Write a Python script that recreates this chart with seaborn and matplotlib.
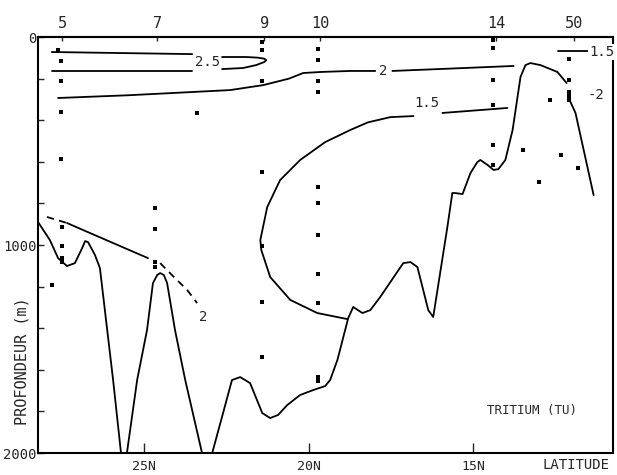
import numpy as np
import pandas as pd
import matplotlib
matplotlib.use('Agg')
import matplotlib.pyplot as plt
from matplotlib.ticker import MultipleLocator
import seaborn as sns

# stations along the top axis
station_lat = [27.49, 24.60, 21.35, 19.65, 14.30, 11.96]
station_lbl = ['5', '7', '9', '10', '14', '50']

# latitude ticks on the bottom
lat_ticks = [25, 20, 15]
lat_lbl = ['25N', '20N', '15N']

# contour 2.5 (surface, left), broken for its label
c25_a_lat = [27.80, 23.54]
c25_a_dep = [72, 82]
c25_b_lat = [22.63, 21.90, 21.55, 21.35, 21.29, 21.35, 21.60, 22.00, 22.63]
c25_b_dep = [96, 96, 99, 104, 111, 120, 135, 149, 154]
c25_c_lat = [23.54, 27.80]
c25_c_dep = [161, 161]

# contour 2 (upper)
c2_a_lat = [27.61, 25.50, 24.00, 22.39, 21.38, 20.60, 20.17, 19.65, 18.74, 17.98]
c2_a_dep = [293, 280, 268, 255, 231, 200, 173, 168, 163, 163]
c2_b_lat = [17.46, 15.60, 13.78]
c2_b_dep = [163, 151, 139]

# contour 1.5 (top right, short)
c15_top_lat = [12.42, 11.53]
c15_top_dep = [67, 67]

# contour 1.5 (big loop)
c15_a_lat = [13.97, 15.94]
c15_a_dep = [341, 365]
c15_b_lat = [16.82, 17.52, 18.20, 18.74, 19.50, 20.26, 20.87, 21.26, 21.47,
             21.44, 21.17, 20.56, 19.74, 18.83]
c15_b_dep = [380, 385, 410, 447, 505, 591, 688, 817, 976,
             1024, 1154, 1264, 1327, 1356]

# contour 2 (deep, left) - dashed / solid / dashed
c2d_a_lat = [27.95, 27.34]
c2d_a_dep = [865, 894]
c2d_b_lat = [27.34, 26.85, 24.88]
c2d_b_dep = [894, 928, 1063]
c2d_c_lat = [24.51, 24.06, 23.69, 23.39]
c2d_c_dep = [1087, 1159, 1216, 1279]

# deep contour across the section
cg_a_lat = [28.22, 27.86, 27.61, 27.34, 27.10, 26.88, 26.79, 26.70, 26.49, 26.34,
            25.94, 25.70, 25.52, 25.21, 24.91, 24.73, 24.60, 24.51, 24.40, 24.30,
            24.06, 23.75, 23.24, 22.93, 22.33, 22.08, 21.78, 21.41, 21.17, 20.93,
            20.65, 20.26, 19.86, 19.50, 19.35, 19.13, 18.80, 18.65, 18.37, 18.13,
            17.83, 17.13, 16.91, 16.70, 16.37, 16.22, 15.79, 15.64, 15.55, 15.33,
            15.09, 14.88, 14.79, 14.57, 14.39, 14.24, 14.03, 13.81, 13.57, 13.42,
            13.27, 12.96, 12.45, 12.17]
cg_a_dep = [889, 976, 1063, 1101, 1087, 1015, 981, 986, 1048, 1111,
            1649, 2000, 2000, 1649, 1409, 1183, 1144, 1135, 1144, 1183,
            1409, 1649, 2000, 2000, 1649, 1635, 1664, 1808, 1832, 1817,
            1769, 1721, 1697, 1678, 1649, 1553, 1351, 1298, 1327, 1313,
            1250, 1087, 1082, 1106, 1313, 1346, 913, 750, 750, 755,
            654, 601, 591, 615, 639, 635, 591, 447, 192, 135,
            125, 135, 168, 221]
cg_b_lat = [12.05, 11.90, 11.35]
cg_b_dep = [313, 365, 760]

# sample points
sample_lat = ([27.61, 27.52, 27.52, 27.52, 27.52, 27.50, 27.50, 27.50, 27.50]
              + [24.67, 24.67, 24.67, 24.67, 23.39]
              + [21.41] * 7
              + [19.71] * 11
              + [14.39] * 6
              + [12.11] * 6
              + [12.66, 12.33, 13.02, 27.80, 13.48, 11.81])
sample_dep = ([62, 115, 212, 361, 587, 913, 1005, 1063, 1082]
              + [822, 923, 1082, 1106, 365]
              + [24, 62, 212, 649, 1005, 1274, 1539]
              + [58, 111, 212, 264, 721, 798, 952, 1139, 1279, 1635, 1654]
              + [14, 53, 207, 327, 519, 615]
              + [106, 207, 264, 279, 293, 303]
              + [303, 567, 697, 1192, 543, 630])

# contour labels
lab_txt = ['2.5', '2', '1.5', '1.5', '-2', '2']
lab_lat = [23.08, 17.74, 16.40, 11.11, 11.29, 23.21]
lab_dep = [120, 163, 317, 72, 279, 1346]

solid = [(c25_a_lat, c25_a_dep), (c25_b_lat, c25_b_dep), (c25_c_lat, c25_c_dep),
         (c2_a_lat, c2_a_dep), (c2_b_lat, c2_b_dep), (c15_top_lat, c15_top_dep),
         (c15_a_lat, c15_a_dep), (c15_b_lat, c15_b_dep), (c2d_b_lat, c2d_b_dep),
         (cg_a_lat, cg_a_dep), (cg_b_lat, cg_b_dep)]
dashed = [(c2d_a_lat, c2d_a_dep), (c2d_c_lat, c2d_c_dep)]


def to_frame(segs):
    rows = []
    for i, (la, de) in enumerate(segs):
        for a, d in zip(la, de):
            rows.append({'seg': i, 'lat': a, 'depth': d})
    return pd.DataFrame(rows)


df_solid = to_frame(solid)
df_dash = to_frame(dashed)

sns.set_style('ticks')
plt.rcParams['font.family'] = ['DejaVu Sans Mono', 'DejaVu Sans']

fig = plt.figure(figsize=(6.17, 4.75), dpi=100)
ax = fig.add_axes([0.0616, 0.0463, 0.932, 0.8757])

sns.lineplot(data=df_solid, x='lat', y='depth', units='seg', estimator=None,
             sort=False, color='black', lw=1.3, ax=ax, legend=False)
sns.lineplot(data=df_dash, x='lat', y='depth', units='seg', estimator=None,
             sort=False, color='black', lw=1.3, ax=ax, legend=False,
             dashes=False, linestyle=(0, (4, 3)))
sns.scatterplot(x=sample_lat, y=sample_dep, color='black', s=5, marker='s',
                linewidth=0, ax=ax)

for t, la, de in zip(lab_txt, lab_lat, lab_dep):
    ax.text(la, de, t, ha='center', va='center', fontsize=10,
            bbox=dict(facecolor='white', edgecolor='none', pad=0.5), clip_on=False)

ax.set_xlim(28.22, 10.76)
ax.set_ylim(2000, 0)

ax.set_xticks(lat_ticks, labels=lat_lbl)
ax.set_yticks([0, 1000, 2000], labels=['0', '1000', '2000'])
ax.yaxis.set_minor_locator(MultipleLocator(200))
ax.tick_params(axis='x', direction='in', length=7, width=1, pad=5, labelsize=9.5)
ax.tick_params(axis='y', which='both', direction='in', length=4, width=1, pad=1,
               labelsize=10)
ax.set_xlabel('')
ax.set_ylabel('PROFONDEUR (m)', fontsize=11)
ax.yaxis.set_label_coords(-0.014, 0.22)

for s in ax.spines.values():
    s.set_linewidth(1.5)
    s.set_color('black')

top = ax.secondary_xaxis('top')
top.set_xticks(station_lat, labels=station_lbl)
top.tick_params(direction='in', length=3, width=1, pad=4, labelsize=11)
top.spines['top'].set_linewidth(1.5)

ax.text(0.859, 0.103, 'TRITIUM (TU)', transform=ax.transAxes, ha='center',
        va='center', fontsize=9)
ax.text(0.935, -0.028, 'LATITUDE', transform=ax.transAxes, ha='center',
        va='center', fontsize=10)

fig.savefig('out.png', dpi=100)
